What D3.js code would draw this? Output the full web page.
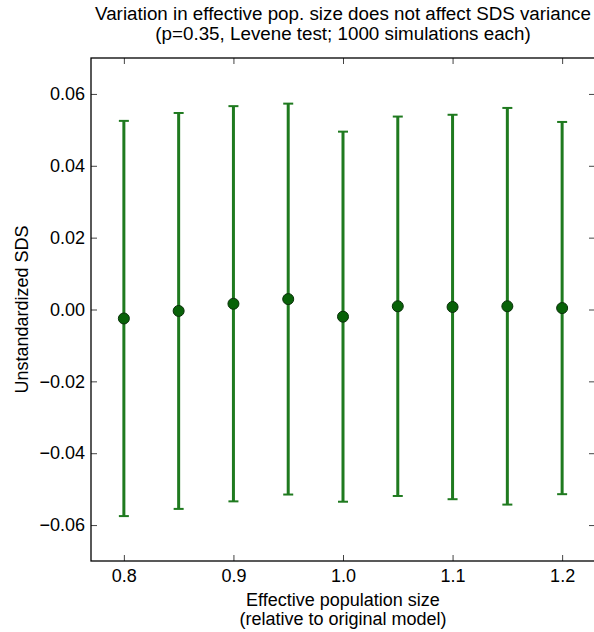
<!DOCTYPE html>
<html>
<head>
<meta charset="utf-8">
<script src="https://cdn.jsdelivr.net/npm/d3@7"></script>
<style>
  html, body { margin: 0; padding: 0; background: #fff; }
  svg { display: block; }
  text { font-family: "Liberation Sans", Arial, Helvetica, sans-serif; fill: #000; }
</style>
</head>
<body>
<svg id="chart" width="594" height="632"></svg>
<script>
// Relative effective population size for each simulation batch
const popSize = [0.80, 0.85, 0.90, 0.95, 1.00, 1.05, 1.10, 1.15, 1.20];
// Mean unstandardized SDS per batch
const meanSDS = [-0.0025, -0.0004, 0.0016, 0.0029, -0.0020, 0.0009, 0.0007, 0.0009, 0.0004];
// Half-width of each error bar
const errSDS = [0.0550, 0.0551, 0.0550, 0.0544, 0.0515, 0.0528, 0.0535, 0.0552, 0.0518];

const xTicks = [0.8, 0.9, 1.0, 1.1, 1.2];
const yTicks = [-0.06, -0.04, -0.02, 0.00, 0.02, 0.04, 0.06];

const titleLines = [
  "Variation in effective pop. size does not affect SDS variance",
  "(p=0.35, Levene test; 1000 simulations each)"
];
const xLabelLines = ["Effective population size", "(relative to original model)"];
const yLabel = "Unstandardized SDS";

const svg = d3.select("#chart");
const plot = { left: 91, right: 595, top: 58, bottom: 561 };

const x = d3.scaleLinear().domain([0.77, 1.23]).range([plot.left, plot.right]);
const y = d3.scaleLinear().domain([-0.07, 0.07]).range([plot.bottom, plot.top]);

const fmtY = v => (v < 0 ? "\u2212" : "") + Math.abs(v).toFixed(2);
const fmtX = v => v.toFixed(1);
const tickLen = 6;

// Bottom and left axes with inward ticks
const gx = svg.append("g").attr("transform", `translate(0,${plot.bottom})`)
  .call(d3.axisBottom(x).tickValues(xTicks).tickFormat(fmtX).tickSizeInner(-tickLen).tickSizeOuter(0).tickPadding(8));
const gy = svg.append("g").attr("transform", `translate(${plot.left},0)`)
  .call(d3.axisLeft(y).tickValues(yTicks).tickFormat(fmtY).tickSizeInner(-tickLen).tickSizeOuter(0).tickPadding(6));
// Mirror ticks on top and right
const gxt = svg.append("g").attr("transform", `translate(0,${plot.top})`)
  .call(d3.axisTop(x).tickValues(xTicks).tickFormat("").tickSizeInner(-tickLen).tickSizeOuter(0));
const gyr = svg.append("g").attr("transform", `translate(${plot.right},0)`)
  .call(d3.axisRight(y).tickValues(yTicks).tickFormat("").tickSizeInner(-tickLen).tickSizeOuter(0));

[gx, gy, gxt, gyr].forEach(g => {
  g.select(".domain").remove();
  g.selectAll(".tick line").attr("stroke", "#444").attr("stroke-width", 1);
  g.selectAll(".tick text").style("font-size", "18px").attr("fill", "#000");
});

// Frame
svg.append("rect")
  .attr("x", plot.left).attr("y", plot.top)
  .attr("width", plot.right - plot.left).attr("height", plot.bottom - plot.top)
  .attr("fill", "none").attr("stroke", "#000").attr("stroke-width", 1.3);

// Error bars
const barColor = "#1f7a1f";
const capHalf = 5;
const bars = svg.append("g");
popSize.forEach((p, i) => {
  const cx = x(p);
  const lo = y(meanSDS[i] - errSDS[i]);
  const hi = y(meanSDS[i] + errSDS[i]);
  bars.append("line").attr("x1", cx).attr("x2", cx).attr("y1", lo).attr("y2", hi)
    .attr("stroke", barColor).attr("stroke-width", 3);
  [lo, hi].forEach(yy => {
    bars.append("line").attr("x1", cx - capHalf).attr("x2", cx + capHalf).attr("y1", yy).attr("y2", yy)
      .attr("stroke", barColor).attr("stroke-width", 2);
  });
});

// Mean markers
svg.append("g").selectAll("circle")
  .data(popSize)
  .join("circle")
  .attr("cx", d => x(d))
  .attr("cy", (d, i) => y(meanSDS[i]))
  .attr("r", 5.5)
  .attr("fill", "#086208")
  .attr("stroke", "#0a300a")
  .attr("stroke-width", 1);

// Title, centred over the plot area
svg.append("g").selectAll("text").data(titleLines).join("text")
  .attr("x", (plot.left + plot.right) / 2).attr("y", (d, i) => 20 + i * 20)
  .attr("text-anchor", "middle").style("font-size", "18.8px").text(d => d);

// X axis label
svg.append("g").selectAll("text").data(xLabelLines).join("text")
  .attr("x", (plot.left + plot.right) / 2).attr("y", (d, i) => 606 + i * 19)
  .attr("text-anchor", "middle").style("font-size", "18px").text(d => d);

// Y axis label
svg.append("text")
  .attr("transform", `translate(28,${(plot.top + plot.bottom) / 2}) rotate(-90)`)
  .attr("text-anchor", "middle").style("font-size", "18px").text(yLabel);
</script>
</body>
</html>
